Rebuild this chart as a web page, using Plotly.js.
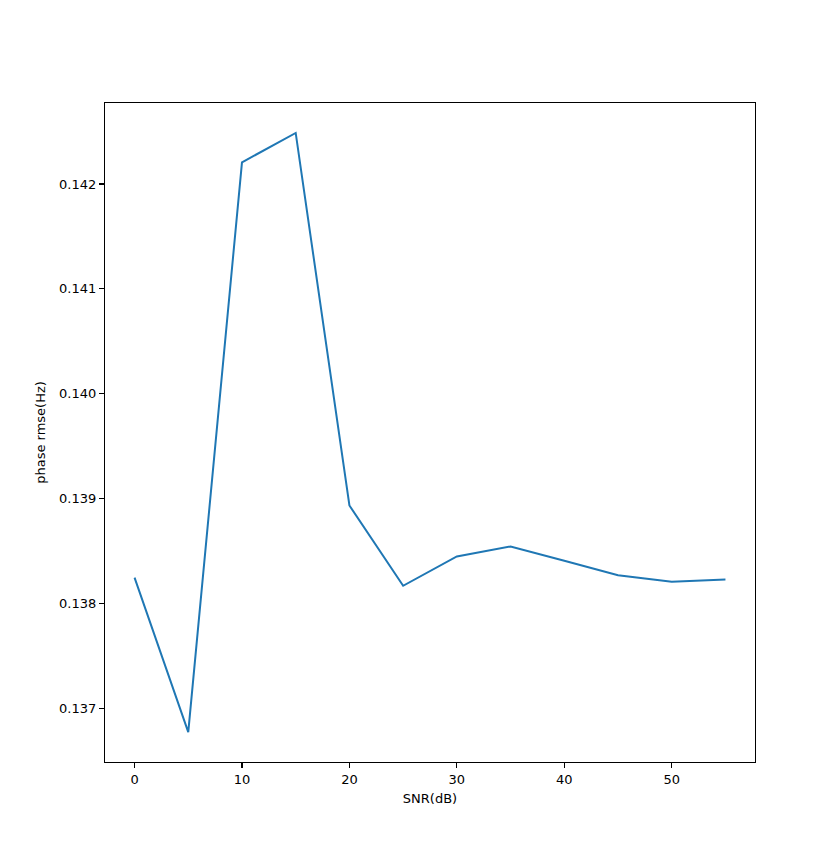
<!DOCTYPE html>
<html>
<head>
<meta charset="utf-8">
<script src="https://cdn.plot.ly/plotly-3.0.1.min.js"></script>
<style>html,body{margin:0;padding:0;background:#fff;}#chart{width:839px;height:856px;}</style>
</head>
<body>
<div id="chart"></div>
<script>
const snr = [0, 5, 10, 15, 20, 25, 30, 35, 40, 45, 50, 55];
const phaseRmse = [0.138248, 0.136777, 0.142206, 0.142486, 0.138936, 0.138171, 0.138450, 0.138546, 0.138410, 0.138272, 0.138210, 0.138231];
const yTicks = [0.137, 0.138, 0.139, 0.140, 0.141, 0.142];
const xTicks = [0, 10, 20, 30, 40, 50];

function padRange(arr) {
  const mn = Math.min(...arr), mx = Math.max(...arr), d = (mx - mn) * 0.05;
  return [mn - d, mx + d];
}

const font = {family: 'DejaVu Sans, sans-serif', size: 13, color: '#000'};
const axisCommon = {
  showgrid: false, zeroline: false, showline: true, mirror: true,
  linecolor: '#000', linewidth: 1.1, ticks: 'outside', ticklen: 5, tickwidth: 1.1,
  tickcolor: '#000', tickfont: font
};

Plotly.newPlot('chart', [{
  x: snr, y: phaseRmse, type: 'scatter', mode: 'lines',
  line: {color: '#1f77b4', width: 2}
}], {
  width: 839, height: 856,
  margin: {l: 105, r: 84, t: 103, b: 94},
  paper_bgcolor: '#fff', plot_bgcolor: '#fff',
  font: font,
  showlegend: false,
  xaxis: Object.assign({}, axisCommon, {
    range: padRange(snr), tickvals: xTicks, ticktext: xTicks.map(String),
    title: {text: 'SNR(dB)', font: font, standoff: 8}
  }),
  yaxis: Object.assign({}, axisCommon, {
    range: padRange(phaseRmse), tickvals: yTicks, ticktext: yTicks.map(v => v.toFixed(3)),
    title: {text: 'phase rmse(Hz)', font: font, standoff: 10}
  })
}, {staticPlot: true});
</script>
</body>
</html>
